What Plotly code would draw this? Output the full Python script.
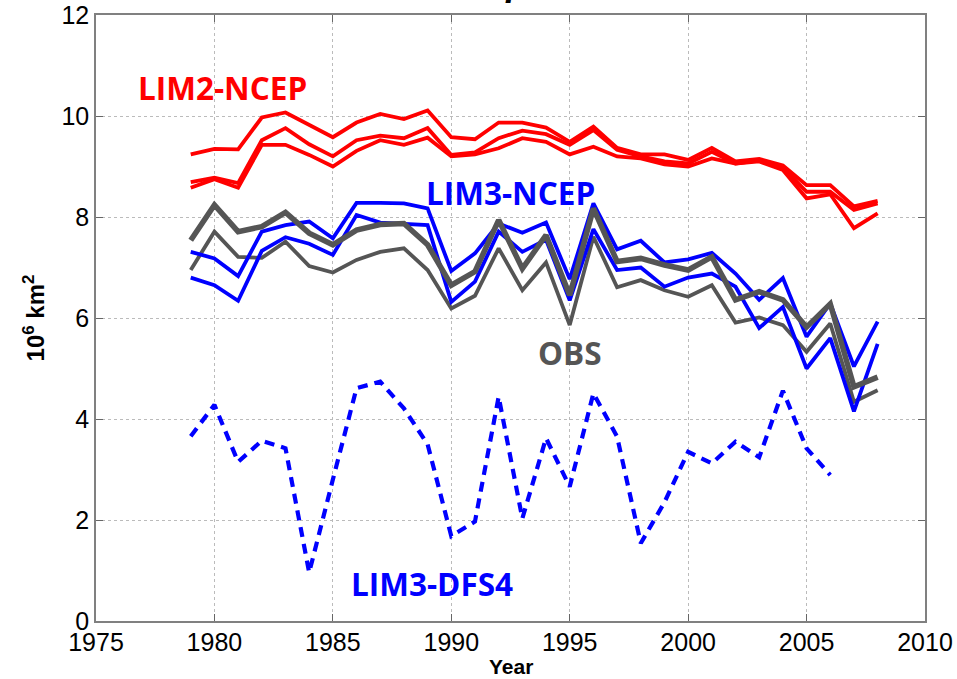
import plotly.graph_objects as go

years = list(range(1979, 2009))
years_dfs4 = list(range(1979, 2007))

lim2_ncep_a = [9.24, 9.35, 9.34, 9.97, 10.07, 9.83, 9.58, 9.87, 10.04, 9.94, 10.11, 9.58, 9.54, 9.87, 9.87,
               9.77, 9.49, 9.79, 9.37, 9.24, 9.24, 9.13, 9.37, 9.10, 9.15, 9.02, 8.63, 8.63, 8.21, 8.32]
lim2_ncep_b = [8.69, 8.78, 8.67, 9.52, 9.76, 9.44, 9.20, 9.52, 9.61, 9.56, 9.76, 9.23, 9.28, 9.56, 9.71,
               9.64, 9.43, 9.72, 9.33, 9.20, 9.10, 9.06, 9.29, 9.06, 9.12, 8.98, 8.50, 8.50, 8.14, 8.27]
lim2_ncep_c = [8.58, 8.75, 8.58, 9.43, 9.43, 9.23, 9.00, 9.31, 9.52, 9.43, 9.57, 9.20, 9.24, 9.36, 9.56,
               9.49, 9.24, 9.39, 9.20, 9.16, 9.04, 9.00, 9.16, 9.06, 9.10, 8.93, 8.37, 8.45, 7.78, 8.07]

lim3_ncep_a = [7.31, 7.18, 6.83, 7.71, 7.84, 7.91, 7.58, 8.28, 8.28, 8.27, 8.17, 6.93, 7.28, 7.87, 7.69,
               7.89, 6.77, 8.27, 7.36, 7.53, 7.10, 7.16, 7.29, 6.88, 6.36, 6.79, 5.63, 6.29, 5.04, 5.93]
lim3_ncep_b = [6.80, 6.65, 6.34, 7.33, 7.60, 7.47, 7.25, 8.04, 7.89, 7.87, 7.84, 6.32, 6.72, 7.71, 7.31,
               7.55, 6.35, 7.76, 6.95, 7.00, 6.62, 6.80, 6.88, 6.62, 5.80, 6.22, 5.00, 5.60, 4.15, 5.49]

obs_a = [7.54, 8.24, 7.71, 7.81, 8.09, 7.68, 7.45, 7.74, 7.85, 7.87, 7.45, 6.65, 6.92, 7.94, 6.98,
         7.64, 6.45, 8.17, 7.12, 7.18, 7.05, 6.95, 7.21, 6.36, 6.52, 6.36, 5.82, 6.28, 4.64, 4.83]
obs_b = [6.95, 7.71, 7.21, 7.19, 7.51, 7.03, 6.90, 7.15, 7.31, 7.38, 6.95, 6.19, 6.44, 7.38, 6.55,
         7.10, 5.86, 7.61, 6.61, 6.75, 6.55, 6.42, 6.65, 5.91, 6.01, 5.86, 5.33, 5.89, 4.34, 4.57]

lim3_dfs4 = [3.66, 4.28, 3.15, 3.57, 3.42, 0.96, 2.80, 4.61, 4.74, 4.21, 3.50, 1.68, 1.97, 4.44, 2.03,
             3.62, 2.66, 4.51, 3.65, 1.54, 2.35, 3.35, 3.12, 3.55, 3.24, 4.56, 3.42, 2.89]

x_ticks = [1975, 1980, 1985, 1990, 1995, 2000, 2005, 2010]
y_ticks = [0, 2, 4, 6, 8, 10, 12]

RED = "#ff0000"
BLUE = "#0000ff"
GRAY = "#555555"

fig = go.Figure()

for s in [lim2_ncep_a, lim2_ncep_b, lim2_ncep_c]:
    fig.add_trace(go.Scatter(x=years, y=s, mode="lines", line=dict(color=RED, width=3.8)))
fig.add_trace(go.Scatter(x=years, y=obs_b, mode="lines", line=dict(color=GRAY, width=3.8)))
for s in [lim3_ncep_a, lim3_ncep_b]:
    fig.add_trace(go.Scatter(x=years, y=s, mode="lines", line=dict(color=BLUE, width=3.8)))
fig.add_trace(go.Scatter(x=years, y=obs_a, mode="lines", line=dict(color=GRAY, width=5.5)))
fig.add_trace(go.Scatter(x=years_dfs4, y=lim3_dfs4, mode="lines",
                         line=dict(color=BLUE, width=4.2, dash="10px,7px")))

label_font = "Open Sans"
lab_size = 31.5
fig.add_annotation(x=1980.34, y=10.57, text="<b>LIM2-NCEP</b>", showarrow=False,
                   font=dict(family=label_font, size=lab_size, color=RED))
fig.add_annotation(x=1992.49, y=8.48, text="<b>LIM3-NCEP</b>", showarrow=False,
                   font=dict(family=label_font, size=lab_size, color=BLUE))
fig.add_annotation(x=1995.02, y=5.31, text="<b>OBS</b>", showarrow=False,
                   font=dict(family=label_font, size=lab_size, color=GRAY))
fig.add_annotation(x=1989.2, y=0.75, text="<b>LIM3-DFS4</b>", showarrow=False,
                   font=dict(family=label_font, size=lab_size, color=BLUE))

fig.add_annotation(xref="paper", yref="paper", x=0.515, y=1.0165, xanchor="center", yanchor="bottom",
                   text="<b><i>Arctic sea ice September ice extent</i></b>", showarrow=False,
                   font=dict(family="Liberation Sans", size=36, color="black"))

fig.add_annotation(xref="paper", yref="paper", x=0.5, y=-0.0745, xanchor="center", yanchor="middle",
                   text="<b>Year</b>", showarrow=False,
                   font=dict(family="Liberation Sans", size=21, color="black"))

tick_font = dict(family="Liberation Sans", size=25, color="black")

fig.update_layout(
    width=957, height=679,
    margin=dict(l=96, r=32, t=15, b=58),
    paper_bgcolor="white", plot_bgcolor="white",
    showlegend=False,
    xaxis=dict(range=[1975, 2010], tickvals=x_ticks, ticktext=[str(v) for v in x_ticks],
               ticks="inside", ticklen=7, tickcolor="#666666", showline=True, linecolor="#808080",
               linewidth=1.5, mirror="ticks", showgrid=True, gridcolor="#bbbbbb", griddash="dot",
               gridwidth=1, zeroline=False, tickfont=tick_font, ticklabeloverflow="allow",
               ticklabelstandoff=-2, automargin=False),
    yaxis=dict(range=[0, 12], tickvals=y_ticks, ticktext=[str(v) for v in y_ticks],
               ticks="inside", ticklen=7, tickcolor="#666666", showline=True, linecolor="#808080",
               linewidth=1.5, mirror="ticks", showgrid=True, gridcolor="#bbbbbb", griddash="dot",
               gridwidth=1, zeroline=False, tickfont=tick_font, ticklabeloverflow="allow",
               automargin=False,
               title=dict(text="<b>10<sup>6</sup> km<sup>2</sup></b>",
                          font=dict(family="Liberation Sans", size=24, color="black"), standoff=10)),
)

fig.write_html("out.html")
